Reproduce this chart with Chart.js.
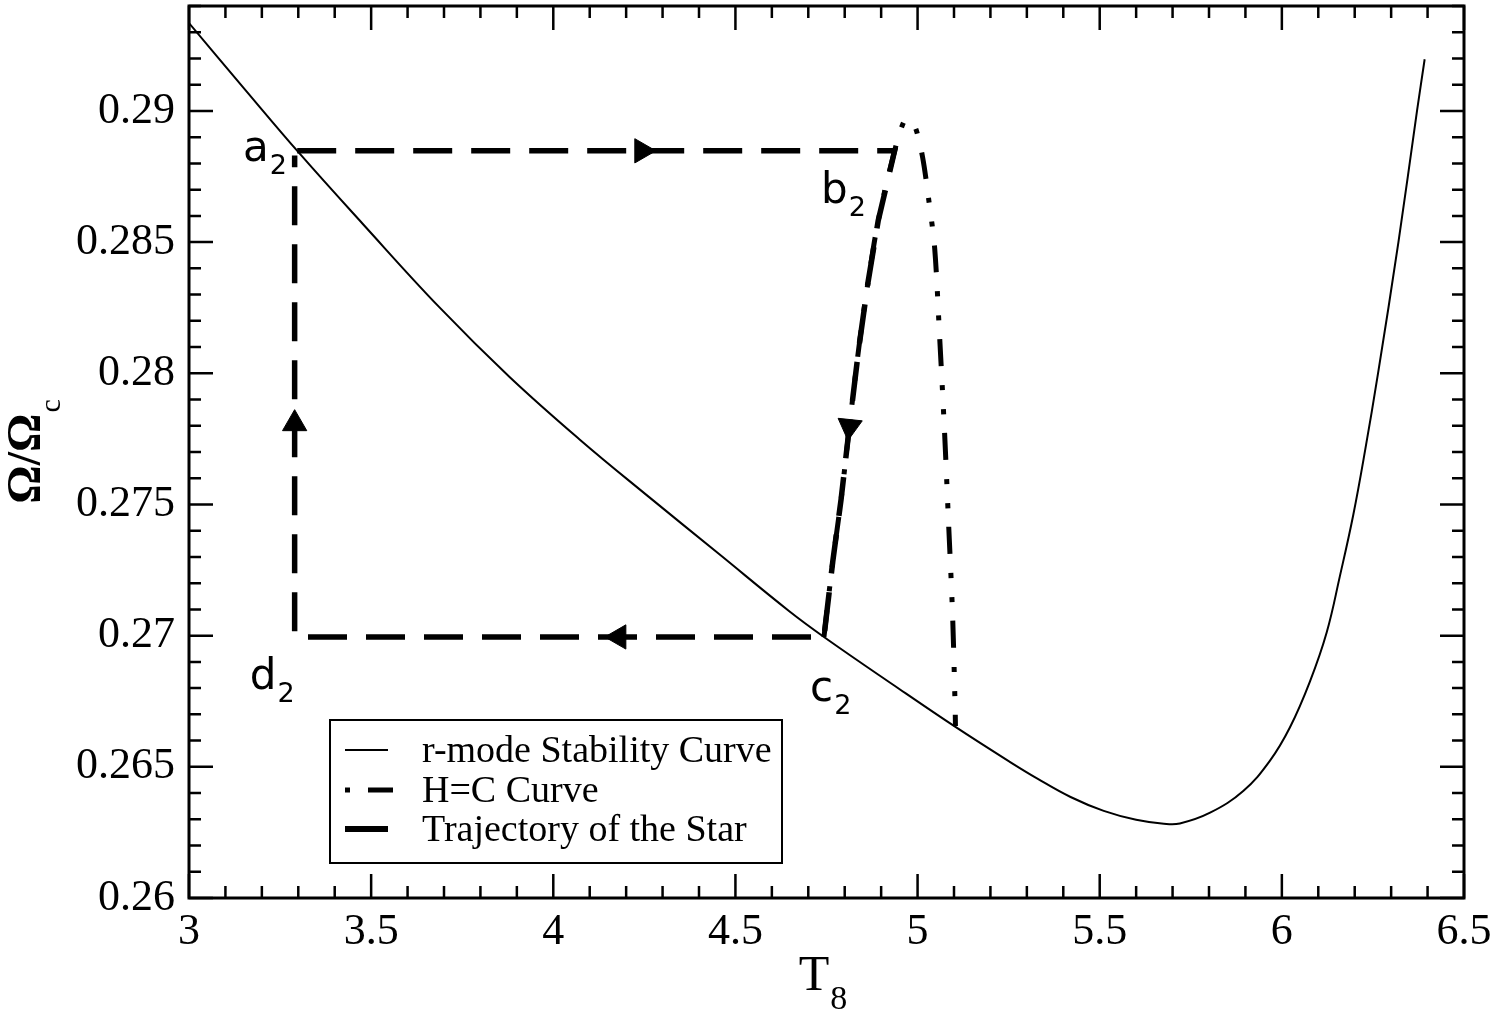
<!DOCTYPE html>
<html>
<head>
<meta charset="utf-8">
<script src="https://cdn.jsdelivr.net/npm/chart.js@4.4.1/dist/chart.umd.min.js"></script>
<style>
html, body { margin: 0; padding: 0; background: #fff; }
</style>
</head>
<body>
<canvas id="c" width="1498" height="1017"></canvas>
<script>
// r-mode stability curve (T8 vs Omega/Omega_c)
const stabT = [3.0, 3.148, 3.304, 3.476, 3.687, 3.880, 4.073, 4.264, 4.456, 4.647, 4.743, 4.938, 5.104,
               5.252, 5.329, 5.420, 5.511, 5.600, 5.676, 5.720, 5.803, 5.894, 5.967, 6.022, 6.077,
               6.123, 6.159, 6.196, 6.229, 6.264, 6.320, 6.371, 6.392];
const stabW = [0.29335, 0.29091, 0.28837, 0.28571, 0.28252, 0.27986, 0.27747, 0.27527, 0.27310, 0.27094, 0.26995, 0.26808, 0.26652,
               0.26520, 0.26455, 0.26385, 0.26332, 0.26298, 0.26283, 0.26284, 0.26325, 0.26408, 0.26523, 0.26650, 0.26825,
               0.27012, 0.27225, 0.27460, 0.27710, 0.28000, 0.28500, 0.29000, 0.29197];

// H=C curve
const hcT = [4.743, 4.767, 4.790, 4.815, 4.839, 4.864, 4.892, 4.937, 4.962, 4.976,
             4.995, 5.014, 5.031, 5.047, 5.061, 5.074, 5.085, 5.096, 5.103, 5.104];
const hcW = [0.26995, 0.27280, 0.27519, 0.27823, 0.28100, 0.28347, 0.28582, 0.28848, 0.28958, 0.28968,
             0.28932, 0.28822, 0.28658, 0.28476, 0.28127, 0.27778, 0.27432, 0.27083, 0.26733, 0.26655];

// trajectory of the star: a2 -> b2 -> (along H=C) c2 -> d2 -> a2
const trajT = [3.297, 4.937, 4.892, 4.864, 4.839, 4.815, 4.790, 4.767, 4.743, 3.290, 3.290];
const trajW = [0.28848, 0.28848, 0.28582, 0.28347, 0.28100, 0.27823, 0.27519, 0.27280, 0.26995, 0.26995, 0.28830];

// arrow heads on the trajectory (rotation in degrees, 0 = up)
const arrowT = [4.243, 4.813, 4.180, 3.290];
const arrowW = [0.28848, 0.27797, 0.26995, 0.27808];
const arrowRot = [90, 186, 270, 0];

// point names a2, b2, c2, d2
const ptName = ['a', 'b', 'c', 'd'];
const ptT = [3.148, 4.735, 4.705, 3.167];
const ptW = [0.2881, 0.28651, 0.26752, 0.26798];

const legendNames = ['r-mode Stability Curve', 'H=C Curve', 'Trajectory of the Star'];

const toXY = (xs, ys) => xs.map((x, i) => ({ x: x, y: ys[i] }));

// inward ticks on all four sides + frame
const frame = {
    id: 'frame',
    afterDatasetsDraw(chart) {
        const ctx = chart.ctx, a = chart.chartArea;
        const sx = chart.scales.x, sy = chart.scales.y;
        ctx.save();
        ctx.strokeStyle = '#000';
        ctx.lineWidth = 2.5;
        ctx.beginPath();
        for (let i = 0; i <= 35; i++) {
            const px = sx.getPixelForValue(3 + i * 0.1);
            const len = i % 5 === 0 ? 24 : 12;
            ctx.moveTo(px, a.bottom); ctx.lineTo(px, a.bottom - len);
            ctx.moveTo(px, a.top); ctx.lineTo(px, a.top + len);
        }
        for (let i = 0; i <= 34; i++) {
            const py = sy.getPixelForValue(0.26 + i * 0.001);
            const len = i % 5 === 0 ? 24 : 12;
            ctx.moveTo(a.left, py); ctx.lineTo(a.left + len, py);
            ctx.moveTo(a.right, py); ctx.lineTo(a.right - len, py);
        }
        ctx.stroke();
        ctx.lineWidth = 3;
        ctx.strokeRect(a.left, a.top, a.right - a.left, a.bottom - a.top);
        ctx.restore();
    }
};

// titles, point names and legend
const notes = {
    id: 'notes',
    afterDraw(chart) {
        const ctx = chart.ctx, a = chart.chartArea;
        const sx = chart.scales.x, sy = chart.scales.y;
        ctx.save();
        ctx.fillStyle = '#000';
        ctx.textBaseline = 'alphabetic';

        // x title T_8
        ctx.font = '50px "Liberation Serif"';
        const wT = ctx.measureText('T').width;
        ctx.font = '34px "Liberation Serif"';
        const w8 = ctx.measureText('8').width;
        let x0 = (a.left + a.right) / 2 - (wT + w8) / 2 - 4;
        ctx.font = '50px "Liberation Serif"';
        ctx.fillText('T', x0, 990);
        ctx.font = '34px "Liberation Serif"';
        ctx.fillText('8', x0 + wT + 1, 1009);

        // y title Omega/Omega_c
        ctx.save();
        ctx.translate(40, (a.top + a.bottom) / 2);
        ctx.rotate(-Math.PI / 2);
        ctx.font = 'bold 48px "Liberation Serif"';
        const wO = ctx.measureText('\u03A9/\u03A9').width;
        ctx.font = '30px "Liberation Serif"';
        const wc = ctx.measureText('c').width;
        const y0 = -(wO + wc) / 2;
        ctx.font = 'bold 48px "Liberation Serif"';
        ctx.fillText('\u03A9/\u03A9', y0, 0);
        ctx.font = '30px "Liberation Serif"';
        ctx.fillText('c', y0 + wO + 1, 20);
        ctx.restore();

        // point names
        ptName.forEach((n, i) => {
            const px = sx.getPixelForValue(ptT[i]), py = sy.getPixelForValue(ptW[i]);
            ctx.font = '42px "DejaVu Sans"';
            ctx.fillText(n, px, py);
            const w = ctx.measureText(n).width;
            ctx.font = '27px "DejaVu Sans"';
            ctx.fillText('2', px + w + 1, py + 13);
        });

        // legend box
        ctx.lineWidth = 2;
        ctx.strokeStyle = '#000';
        ctx.strokeRect(330, 720, 452, 143);
        const rows = [750, 790, 829];
        ctx.font = '38px "Liberation Serif"';
        ctx.textBaseline = 'middle';
        rows.forEach((ry, i) => ctx.fillText(legendNames[i], 422, ry + 2));
        ctx.beginPath();
        ctx.lineWidth = 2;
        ctx.moveTo(345, rows[0]); ctx.lineTo(388, rows[0]);
        ctx.stroke();
        ctx.beginPath();
        ctx.lineWidth = 5;
        ctx.moveTo(345, rows[1]); ctx.lineTo(350, rows[1]);
        ctx.moveTo(368, rows[1]); ctx.lineTo(393, rows[1]);
        ctx.stroke();
        ctx.beginPath();
        ctx.lineWidth = 6;
        ctx.moveTo(345, rows[2]); ctx.lineTo(388, rows[2]);
        ctx.stroke();
        ctx.restore();
    }
};

new Chart(document.getElementById('c'), {
    type: 'line',
    data: {
        datasets: [
            {
                label: legendNames[0],
                data: toXY(stabT, stabW),
                borderColor: '#000',
                borderWidth: 2,
                pointRadius: 0,
                tension: 0.4,
                fill: false
            },
            {
                label: legendNames[1],
                data: toXY(hcT, hcW),
                borderColor: '#000',
                borderWidth: 5,
                borderDash: [27, 19, 5, 19, 5, 19],
                pointRadius: 0,
                tension: 0.3,
                fill: false
            },
            {
                label: legendNames[2],
                data: toXY(trajT, trajW),
                borderColor: '#000',
                borderWidth: 5.5,
                borderDash: [39, 19],
                pointRadius: 0,
                tension: 0,
                fill: false
            },
            {
                type: 'scatter',
                label: 'arrows',
                data: toXY(arrowT, arrowW),
                pointStyle: 'triangle',
                pointRotation: arrowRot,
                pointRadius: 14,
                backgroundColor: '#000',
                borderColor: '#000',
                borderWidth: 1
            }
        ]
    },
    options: {
        responsive: false,
        devicePixelRatio: 1,
        animation: false,
        events: [],
        layout: { autoPadding: false, padding: { top: 6, right: 34, left: 0, bottom: 0 } },
        plugins: { legend: { display: false }, tooltip: { enabled: false } },
        scales: {
            x: {
                type: 'linear',
                min: 3, max: 6.5,
                border: { display: false },
                grid: { display: false, drawTicks: false },
                ticks: {
                    stepSize: 0.5,
                    includeBounds: false,
                    padding: 8,
                    color: '#000',
                    font: { family: 'Liberation Serif', size: 44 },
                    maxRotation: 0,
                    callback: v => String(+v.toFixed(2))
                },
                afterFit: s => { s.height = 119; s.paddingLeft = 0; s.paddingRight = 0; }
            },
            y: {
                type: 'linear',
                min: 0.26, max: 0.294,
                border: { display: false },
                grid: { display: false, drawTicks: false },
                ticks: {
                    stepSize: 0.005,
                    includeBounds: false,
                    padding: 14,
                    color: '#000',
                    font: { family: 'Liberation Serif', size: 44 },
                    callback: v => String(+v.toFixed(3))
                },
                afterFit: s => { s.width = 189; s.paddingTop = 0; s.paddingBottom = 0; }
            }
        }
    },
    plugins: [frame, notes]
});
</script>
</body>
</html>
